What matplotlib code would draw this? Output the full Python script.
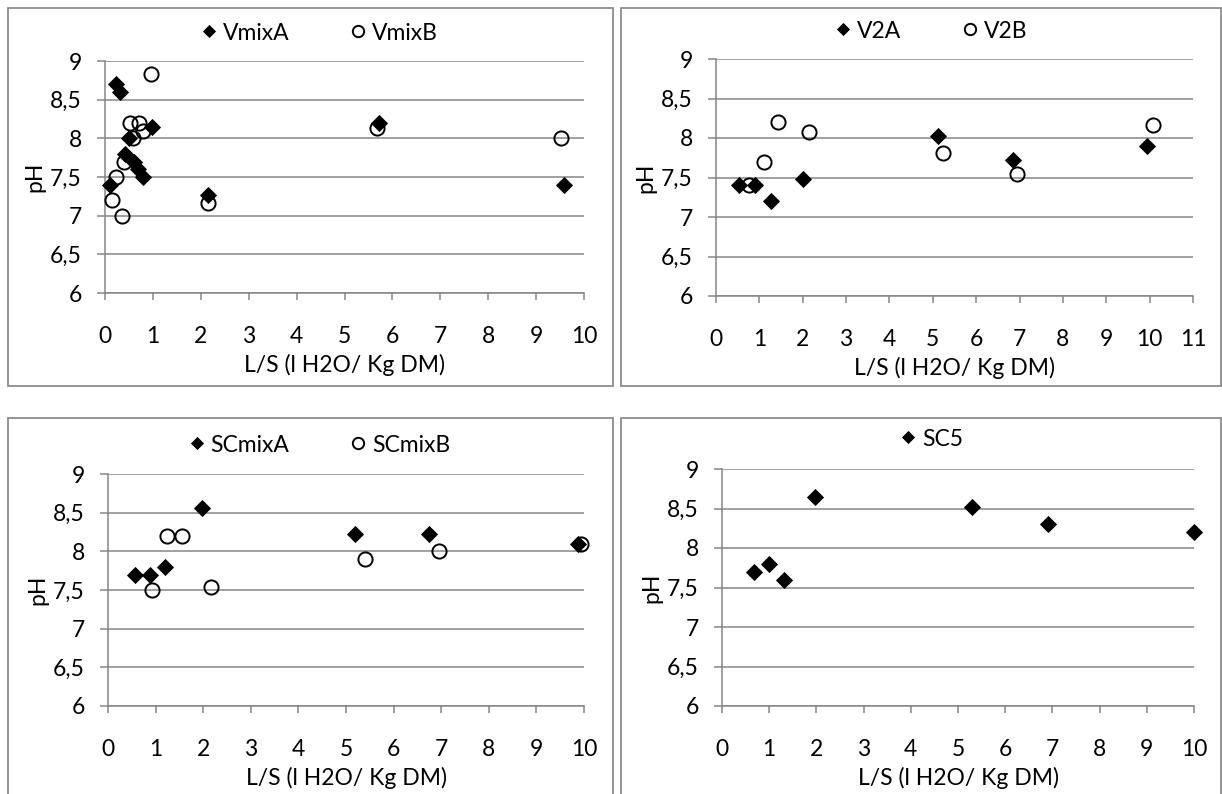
import matplotlib
matplotlib.use("Agg")
import matplotlib.pyplot as plt
from matplotlib.patches import Rectangle
from matplotlib.ticker import FuncFormatter, MultipleLocator

plt.rcParams['font.family'] = ['Lato', 'DejaVu Sans']

# ---------------- data ----------------
vmixA_x = [0.10, 0.23, 0.31, 0.42, 0.50, 0.61, 0.68, 0.80, 0.99, 2.16, 5.71, 9.58]
vmixA_y = [7.40, 8.70, 8.60, 7.80, 8.00, 7.70, 7.60, 7.50, 8.15, 7.27, 8.20, 7.40]
vmixB_x = [0.14, 0.24, 0.35, 0.40, 0.52, 0.59, 0.72, 0.79, 0.97, 2.16, 5.67, 9.51]
vmixB_y = [7.20, 7.50, 7.00, 7.70, 8.20, 8.00, 8.20, 8.10, 8.83, 7.17, 8.13, 8.00]

v2A_x = [0.54, 0.90, 1.26, 2.01, 5.13, 6.84, 9.93]
v2A_y = [7.40, 7.40, 7.20, 7.48, 8.03, 7.72, 7.90]
v2B_x = [0.75, 1.11, 1.44, 2.14, 5.24, 6.95, 10.07]
v2B_y = [7.40, 7.70, 8.20, 8.07, 7.81, 7.54, 8.17]

scmixA_x = [0.57, 0.89, 1.19, 1.97, 5.18, 6.75, 9.87]
scmixA_y = [7.70, 7.70, 7.80, 8.56, 8.23, 8.23, 8.10]
scmixB_x = [0.92, 1.24, 1.55, 2.17, 5.39, 6.96, 9.94]
scmixB_y = [7.50, 8.20, 8.20, 7.54, 7.90, 8.01, 8.10]

sc5_x = [0.67, 1.00, 1.31, 1.98, 5.30, 6.91, 9.99]
sc5_y = [7.70, 7.80, 7.60, 8.65, 8.52, 8.30, 8.20]

x_label = "L/S (l H2O/ Kg DM)"
y_label = "pH"
y_ticks = [6, 6.5, 7, 7.5, 8, 8.5, 9]

# ---------------- layout ----------------
W, H = 1222, 794
fig = plt.figure(figsize=(W / 100, H / 100), dpi=100)

def rect(x0, x1, ytop, ybot):
    return [x0 / W, 1 - ybot / H, (x1 - x0) / W, (ybot - ytop) / H]

GRAY = '#868686'
BORDER = '#8c8c8c'
FS = 16.5

# panel frames
for (bx0, by0, bx1, by1) in [(8, 8, 613, 386), (621, 8, 1221, 386),
                             (8, 418, 613, 800), (621, 418, 1221, 800)]:
    fig.patches.append(Rectangle((bx0 / W, 1 - by1 / H), (bx1 - bx0) / W, (by1 - by0) / H,
                                 transform=fig.transFigure, fill=False,
                                 edgecolor=BORDER, linewidth=1.3, zorder=0))

fmt = FuncFormatter(lambda v, p: (f"{v:g}").replace('.', ','))

panels = [
    dict(r=rect(105, 584, 61, 293), xmax=10, series=[("VmixA", vmixA_x, vmixA_y, 'A'), ("VmixB", vmixB_x, vmixB_y, 'B')],
         leg=(320, 33)),
    dict(r=rect(716, 1193, 59, 296), xmax=11, series=[("V2A", v2A_x, v2A_y, 'A'), ("V2B", v2B_x, v2B_y, 'B')],
         leg=(932, 31)),
    dict(r=rect(108, 584, 474, 706), xmax=10, series=[("SCmixA", scmixA_x, scmixA_y, 'A'), ("SCmixB", scmixB_x, scmixB_y, 'B')],
         leg=(320, 445)),
    dict(r=rect(722, 1194, 469, 706), xmax=10, series=[("SC5", sc5_x, sc5_y, 'A')],
         leg=(932, 439)),
]

for p in panels:
    ax = fig.add_axes(p['r'])
    ax.set_xlim(0, p['xmax'])
    ax.set_ylim(6, 9)
    ax.set_yticks(y_ticks)
    ax.xaxis.set_major_locator(MultipleLocator(1))
    ax.yaxis.set_major_formatter(fmt)
    ax.grid(axis='y', color=GRAY, linewidth=1.1, zorder=0)
    for s in ['top', 'right']:
        ax.spines[s].set_visible(False)
    for s in ['left', 'bottom']:
        ax.spines[s].set_color(GRAY)
        ax.spines[s].set_linewidth(1.1)
    ax.tick_params(axis='y', direction='out', length=5.8, width=1.1, color=GRAY,
                   pad=11, labelsize=FS, labelcolor='black')
    ax.tick_params(axis='x', direction='out', length=5.0, width=1.1, color=GRAY,
                   pad=19, labelsize=FS, labelcolor='black')
    ax.set_axisbelow(True)
    handles, labels = [], []
    for name, xs, ys, kind in p['series']:
        if kind == 'A':
            h, = ax.plot(xs, ys, linestyle='none', marker='D', markersize=8.0,
                         markerfacecolor='black', markeredgecolor='black',
                         markeredgewidth=0.6, clip_on=False, zorder=3)
        else:
            h, = ax.plot(xs, ys, linestyle='none', marker='o', markersize=10.2,
                         markerfacecolor='none', markeredgecolor='black',
                         markeredgewidth=1.4, clip_on=False, zorder=3)
        handles.append(h)
        labels.append(name)
    ax.set_xlabel(x_label, fontsize=FS, labelpad=5)
    ax.set_ylabel(y_label, fontsize=FS, labelpad=3)
    cx, cy = p['leg']
    ax.legend(handles, labels, loc='center', bbox_to_anchor=(cx / W, 1 - cy / H),
              bbox_transform=fig.transFigure, ncol=len(handles), frameon=False,
              fontsize=FS, handlelength=0.6, handletextpad=0.3, columnspacing=2.7,
              borderpad=0, markerscale=0.8)

fig.savefig("out.png", dpi=100)
